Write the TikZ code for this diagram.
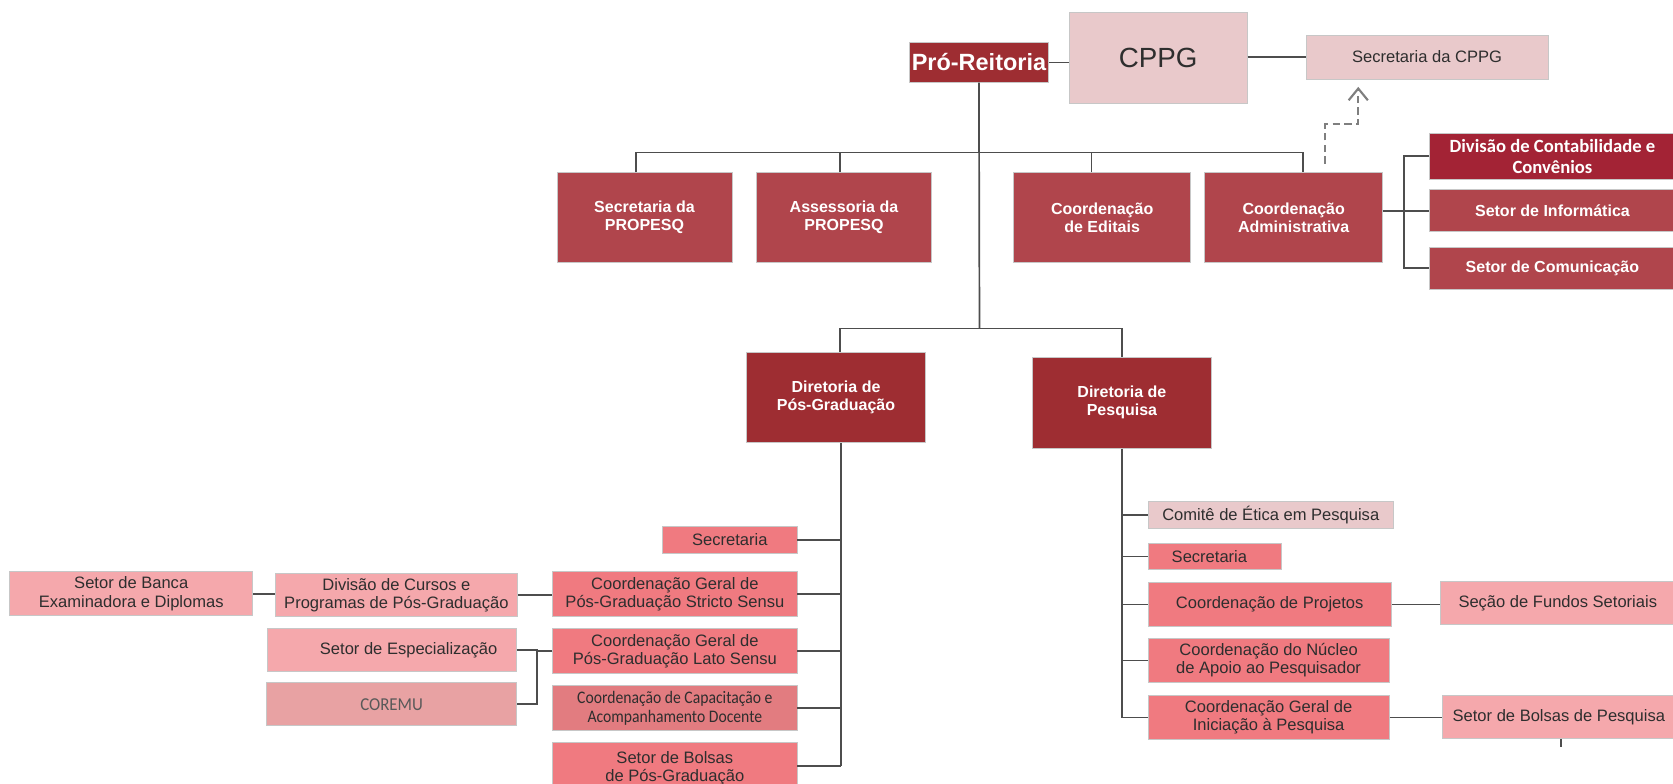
\documentclass[tikz,border=0pt]{standalone}
\usepackage{fontspec}
\setmainfont{Liberation Sans}
\newfontfamily\calfont{Carlito}
\newfontfamily\calfontc[FakeStretch=0.89]{Carlito}
\newfontfamily\calfontm[FakeStretch=0.93]{Carlito}
\usetikzlibrary{arrows.meta}
\definecolor{dred}{HTML}{9E2D32}
\definecolor{mred}{HTML}{B0454C}
\definecolor{crim}{HTML}{A32335}
\definecolor{pinkc}{HTML}{E9C9CB}
\definecolor{salm}{HTML}{F07A80}
\definecolor{lsal}{HTML}{F5A8AC}
\definecolor{capc}{HTML}{E27C80}
\definecolor{corc}{HTML}{E8A2A3}
\definecolor{linec}{HTML}{4D4D4D}
\definecolor{txtc}{HTML}{2E2E2E}
\definecolor{dashc}{HTML}{7F7F7F}
\newcommand\orgbox[7]{\node[#2, minimum width={(#5)-(#3)}, minimum height={(#6)-(#4)}] (#1) at ({((#3)+(#5))/2},{((#4)+(#6))/2}) {#7};}
\begin{document}
\begin{tikzpicture}[x=1pt,y=-1pt,
  box/.style={draw=black!22, line width=0.8pt, align=center, inner sep=0pt},
  darkbox/.style={box, fill=dred, text=white, font=\bfseries\fontsize{15}{17}\selectfont},
  midbox/.style={box, fill=mred, text=white, font=\bfseries\fontsize{15}{17}\selectfont},
  crimbox/.style={box, fill=crim, text=white, font=\calfont\bfseries\fontsize{17.5}{20}\selectfont},
  pinkbox/.style={box, fill=pinkc, text=txtc, font=\fontsize{15.5}{17}\selectfont},
  salbox/.style={box, fill=salm, text=txtc, font=\fontsize{15.5}{17}\selectfont},
  lsalbox/.style={box, fill=lsal, text=txtc, font=\fontsize{15.5}{17}\selectfont},
  capbox/.style={box, fill=capc, text=txtc, font=\calfontc\fontsize{16.5}{18}\selectfont},
  corbox/.style={box, fill=corc, text=black!65, font=\calfontm\fontsize{17}{19}\selectfont},
  conn/.style={draw=linec, line width=1.6pt},
  dashconn/.style={draw=dashc, line width=2pt, dash pattern=on 7pt off 4pt, -{Straight Barb[length=11pt,width=18pt,line width=2pt]}}
]
\useasboundingbox (0,0) rectangle (1568,734);
\clip (0,0) rectangle (1568,734);
\fill[white] (0,0) rectangle (1568,734);

% top level
\orgbox{pro}{darkbox,font=\bfseries\fontsize{22}{24}\selectfont}{852}{40}{983}{77}{Pró-Reitoria}
\orgbox{cppg}{pinkbox,font=\fontsize{26}{28}\selectfont}{1002}{12}{1169}{97}{CPPG}
\orgbox{scppg}{pinkbox}{1224}{33}{1451}{74}{Secretaria da CPPG}

% second level
\orgbox{spp}{midbox}{522}{162}{686}{246}{Secretaria da\\PROPESQ}
\orgbox{ass}{midbox}{709}{162}{873}{246}{Assessoria da\\PROPESQ}
\orgbox{edi}{midbox}{950}{162}{1116}{246}{Coordenação\\de Editais}
\orgbox{adm}{midbox}{1129}{162}{1296}{246}{Coordenação\\Administrativa}
\orgbox{dcc}{crimbox}{1340}{125}{1570}{168}{Divisão de Contabilidade e\\Convênios}
\orgbox{inf}{midbox}{1340}{178}{1570}{217}{Setor de Informática}
\orgbox{com}{midbox}{1340}{232}{1570}{271}{Setor de Comunicação}

% directorates
\orgbox{dpg}{darkbox}{700}{330}{867}{415}{Diretoria de\\Pós-Graduação}
\orgbox{dp}{darkbox}{968}{335}{1135}{420}{Diretoria de\\Pesquisa}

% left column
\orgbox{sec1}{salbox}{621}{493}{747}{519}{Secretaria}
\orgbox{str}{salbox}{518}{536}{747}{578}{Coordenação Geral de\\Pós-Graduação Stricto Sensu}
\orgbox{lat}{salbox}{518}{589}{747}{631}{Coordenação Geral de\\Pós-Graduação Lato Sensu}
\orgbox{cap}{capbox}{518}{642}{747}{685}{Coordenação de Capacitação e\\Acompanhamento Docente}
\orgbox{bpg}{salbox}{518}{696}{747}{744}{Setor de Bolsas\\de Pós-Graduação}
\orgbox{dcp}{lsalbox}{258}{537}{485}{578}{Divisão de Cursos e\\Programas de Pós-Graduação}
\orgbox{sbe}{lsalbox}{9}{536}{237}{577}{Setor de Banca\\Examinadora e Diplomas}
\orgbox{esp}{lsalbox}{251}{589}{484}{629}{\hspace*{31pt}Setor de Especialização}
\orgbox{cor}{corbox}{250}{640}{484}{680}{COREMU}

% right column
\orgbox{cep}{pinkbox}{1076}{470}{1306}{495}{Comitê de Ética em Pesquisa}
\orgbox{sec2}{salbox}{1076}{509}{1201}{534}{Secretaria\hspace*{10pt}}
\orgbox{prj}{salbox}{1076}{546}{1304}{587}{Coordenação de Projetos}
\orgbox{nuc}{salbox}{1076}{598}{1302}{640}{Coordenação do Núcleo\\de Apoio ao Pesquisador}
\orgbox{ini}{salbox}{1076}{652}{1302}{693}{Coordenação Geral de\\Iniciação à Pesquisa}
\orgbox{fun}{lsalbox}{1350}{545}{1570}{585}{Seção de Fundos Setoriais}
\orgbox{bpq}{lsalbox}{1352}{652}{1570}{692}{Setor de Bolsas de Pesquisa}

% junction coordinates
\coordinate (b1) at (918,143);
\coordinate (b2) at (918,308);
\coordinate (ja) at (1316,0);
\coordinate (jl) at (503,0);
\coordinate (sppt) at ([xshift=-8pt]spp.north);
\coordinate (asst) at ([xshift=-4pt]ass.north);
\coordinate (edit) at ([xshift=-10pt]edi.north);
\coordinate (admt) at ([xshift=8.5pt]adm.north);
\coordinate (dpgt) at ([xshift=4pt]dpg.north);
\coordinate (dpgb) at ([xshift=5pt]dpg.south);
\coordinate (ds) at ([xshift=29.5pt,yshift=8pt]adm.north);
\coordinate (de) at ([xshift=-64.5pt,yshift=-7pt]scppg.south);
\coordinate (tk) at (1463,700);

% connectors
\draw[conn] (pro.east) -- (pro.east -| cppg.west);
\draw[conn] (cppg.east |- scppg.west) -- (scppg.west);
\draw[conn] (pro.south) -- (b2);
\draw[conn] (sppt) -- (sppt |- b1) -- (admt |- b1) -- (admt);
\draw[conn] (asst) -- (asst |- b1);
\draw[conn] (edit) -- (edit |- b1);
\draw[dashconn] (ds) -- ++(0,-37) -| (de);

\draw[conn] (adm.east |- inf.west) -- (inf.west);
\draw[conn] (dcc.west) -- (dcc.west -| ja) -- (com.west -| ja) -- (com.west);

\draw[conn] (dpgt) -- (dpgt |- b2) -- (dp.north |- b2) -- (dp.north);

\draw[conn] (dpgb) -- ([yshift=2pt]dpgb |- bpg.east);
\foreach \n in {sec1,str,lat,cap} \draw[conn] (\n.east) -- (\n.east -| dpgb);
\draw[conn] ([yshift=2pt]bpg.east) -- ([yshift=2pt]bpg.east -| dpgb);
\draw[conn] (dcp.east) -- (dcp.east -| str.west);
\draw[conn] (sbe.east) -- (sbe.east -| dcp.west);
\draw[conn] (lat.west) -- (lat.west -| jl);
\draw[conn] (esp.east) -- (esp.east -| jl) -- (cor.east -| jl) -- (cor.east);

\draw[conn] (dp.south) -- (dp.south |- ini.west);
\foreach \n in {cep,sec2,prj,nuc,ini} \draw[conn] (\n.west) -- (\n.west -| dp.south);
\draw[conn] (prj.east) -- (prj.east -| fun.west);
\draw[conn] (ini.east) -- (ini.east -| bpq.west);
\draw[conn, line width=1.2pt] (bpq.south -| tk) -- (tk);
\end{tikzpicture}
\end{document}
